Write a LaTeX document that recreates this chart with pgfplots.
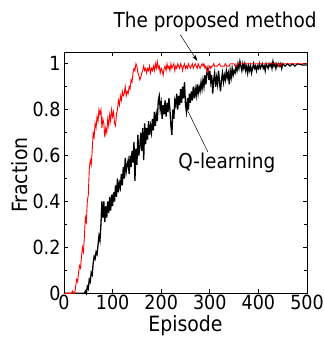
\documentclass[border=0pt]{standalone}
\usepackage{pgfplots}
\pgfplotsset{compat=1.18}
\usepackage{fontspec}
\setmainfont{DejaVu Sans Condensed}
\usetikzlibrary{arrows.meta}
\begin{document}
\begin{tikzpicture}
\useasboundingbox (-64pt,-47.7pt) rectangle (260pt,293.3pt);
\begin{axis}[
  at={(0,0)}, anchor=origin,
  scale only axis, width=243pt, height=241pt,
  xmin=0, xmax=500, ymin=0, ymax=1.05,
  xtick={0,100,200,300,400,500},
  ytick={0,0.2,0.4,0.6,0.8,1},
  yticklabels={0,0.2,0.4,0.6,0.8,1},
  minor ytick={0.1,0.3,0.5,0.7,0.9},
  tick align=inside,
  major tick length=4pt, minor tick length=3pt,
  every tick/.style={black, line width=0.6pt},
  axis line style={black, line width=0.8pt},
  /pgf/number format/assume math mode=true,
  ticklabel style={font=\fontsize{19.5}{22}\selectfont},
  xticklabel style={yshift=1.5pt},
  clip=false,
]
\addplot[black, line width=1.3pt] coordinates {
(0,0) (40,0) (42,0.0) (44,0.01) (46,0.0) (48,0.03) (50,0.02) (52,0.06) (54,0.05) (56,0.09) (58,0.08) (60,0.13) (62,0.16) (64,0.15) (66,0.18) (68,0.17) (70,0.21) (72,0.25) (74,0.23) (76,0.3) (78,0.4) (80,0.33) (82,0.4) (84,0.31) (86,0.38) (88,0.33) (90,0.4) (92,0.35) (94,0.42) (96,0.36) (98,0.43) (100,0.38) (102,0.44) (104,0.4) (106,0.47) (108,0.42) (110,0.5) (112,0.44) (114,0.48) (116,0.46) (118,0.52) (120,0.47) (122,0.55) (124,0.5) (126,0.59) (128,0.53) (130,0.56) (132,0.58) (134,0.52) (136,0.6) (138,0.55) (140,0.62) (142,0.57) (144,0.66) (146,0.49) (148,0.63) (150,0.56) (152,0.69) (154,0.6) (156,0.64) (158,0.7) (160,0.62) (162,0.72) (164,0.58) (166,0.74) (168,0.65) (170,0.72) (172,0.67) (174,0.75) (176,0.69) (178,0.73) (180,0.7) (182,0.76) (184,0.71) (186,0.79) (188,0.73) (190,0.78) (192,0.75) (194,0.84) (196,0.86) (198,0.8) (200,0.83) (202,0.76) (204,0.82) (206,0.78) (208,0.84) (210,0.77) (212,0.83) (214,0.79) (216,0.85) (218,0.8) (220,0.73) (222,0.69) (224,0.8) (226,0.76) (228,0.84) (230,0.82) (232,0.87) (234,0.8) (236,0.86) (238,0.82) (240,0.89) (242,0.83) (244,0.9) (246,0.85) (248,0.92) (250,0.82) (252,0.79) (254,0.85) (256,0.8) (258,0.87) (260,0.83) (262,0.88) (264,0.84) (266,0.9) (268,0.85) (270,0.89) (272,0.86) (274,0.91) (276,0.87) (278,0.9) (280,0.88) (282,0.92) (284,0.89) (286,0.93) (288,0.9) (290,0.95) (292,0.91) (294,0.96) (296,0.98) (298,0.93) (300,0.97) (302,0.92) (304,0.95) (306,0.87) (308,0.93) (310,0.96) (312,0.9) (314,0.94) (316,0.91) (318,0.97) (320,0.92) (322,0.88) (324,0.93) (326,0.96) (328,0.92) (330,0.95) (332,0.93) (334,0.97) (336,0.94) (338,0.96) (340,0.91) (342,0.97) (344,0.94) (346,0.98) (348,0.95) (350,0.97) (352,0.96) (354,0.99) (356,0.97) (358,1.0) (360,0.98) (362,1.01) (364,0.99) (366,0.97) (368,1.0) (370,0.98) (372,1.0) (374,0.97) (376,0.99) (378,0.96) (380,0.99) (382,0.97) (384,0.99) (386,0.96) (388,0.98) (390,1.0) (392,0.98) (394,0.99) (396,0.97) (398,0.99) (400,0.98) (402,1.0) (404,0.98) (406,0.99) (408,1.0) (410,0.98) (412,0.99) (414,0.97) (416,1.0) (418,0.99) (420,0.98) (422,1.0) (424,0.99) (426,1.0) (428,0.98) (430,1.01) (432,0.99) (434,1.0) (436,0.98) (438,1.0) (440,0.99) (442,1.0) (444,0.99) (446,1.0) (448,0.98) (450,1.0) (455,0.99) (460,1.0) (465,0.99) (470,1.0) (475,0.99) (480,1.0) (490,0.995) (500,0.995)
};
\addplot[red, line width=0.9pt] coordinates {
(0,0) (3,0) (6,0) (9,0) (12,0) (15,0) (18,0.01) (20,0) (22,0.0) (24,0.03) (26,0.06) (28,0.05) (30,0.09) (32,0.12) (34,0.11) (36,0.16) (38,0.2) (40,0.18) (42,0.25) (44,0.33) (46,0.31) (48,0.4) (50,0.43) (52,0.54) (54,0.58) (56,0.56) (58,0.62) (60,0.7) (62,0.68) (64,0.74) (66,0.72) (68,0.77) (70,0.75) (72,0.8) (74,0.78) (76,0.8) (78,0.72) (80,0.76) (82,0.74) (84,0.68) (86,0.72) (88,0.7) (90,0.76) (92,0.73) (94,0.78) (96,0.75) (98,0.8) (100,0.77) (102,0.79) (104,0.74) (106,0.73) (108,0.78) (110,0.8) (112,0.84) (114,0.82) (116,0.86) (118,0.84) (120,0.88) (122,0.86) (124,0.87) (126,0.9) (128,0.86) (130,0.88) (132,0.87) (134,0.9) (136,0.89) (138,0.93) (140,0.92) (142,0.96) (144,0.98) (146,0.97) (148,1.0) (150,0.99) (152,0.96) (154,0.95) (156,0.93) (158,0.94) (160,0.96) (162,0.97) (164,0.99) (166,0.97) (168,0.98) (170,0.96) (172,0.98) (174,0.97) (176,0.99) (178,0.96) (180,0.98) (182,0.97) (184,0.99) (186,0.97) (188,1.0) (190,0.98) (192,1.01) (194,0.98) (196,0.99) (198,0.96) (200,0.98) (202,0.97) (204,0.95) (206,0.98) (208,0.99) (210,0.97) (212,1.0) (214,0.98) (216,0.99) (218,0.97) (220,1.0) (222,0.98) (224,0.99) (226,1.0) (228,0.97) (230,0.99) (232,0.98) (234,1.0) (236,0.99) (238,0.98) (240,1.0) (242,0.99) (244,0.97) (246,0.99) (248,1.0) (250,0.98) (252,0.99) (254,0.98) (256,1.0) (258,0.99) (260,0.98) (262,0.99) (264,1.0) (266,0.98) (268,0.99) (270,1.0) (272,0.99) (274,0.98) (276,1.0) (278,0.99) (280,0.98) (282,0.99) (284,1.0) (286,0.99) (288,1.0) (290,0.98) (292,0.99) (294,0.97) (296,0.96) (298,0.98) (300,0.99) (302,0.98) (304,0.99) (306,0.99) (308,1.0) (310,0.99) (315,0.99) (320,1.0) (322,0.99) (330,0.99) (332,1.0) (335,0.99) (340,0.99) (342,1.0) (350,1.0) (352,0.99) (355,0.99) (357,1.0) (440,1.0) (441,0.99) (443,1.0) (446,0.995) (448,1.0) (500,1.0)
};
\node[anchor=base, font=\fontsize{20.5}{22}\selectfont] at (axis cs:311,1.157) {The proposed method};
\draw[-{Stealth[length=6pt,width=4pt]}, line width=0.5pt] (axis cs:239,1.127) -- (axis cs:274,1.013);
\node[anchor=base, font=\fontsize{20.5}{22}\selectfont] at (axis cs:335,0.542) {Q-learning};
\draw[line width=0.5pt] (axis cs:296,0.616) -- (axis cs:253,0.802);
\node[anchor=base, font=\fontsize{21}{22}\selectfont] at (axis cs:250,-0.166) {Episode};
\node[anchor=base, rotate=90, font=\fontsize{21}{22}\selectfont] at (axis cs:-76,0.515) {Fraction};
\end{axis}
\end{tikzpicture}
\end{document}
